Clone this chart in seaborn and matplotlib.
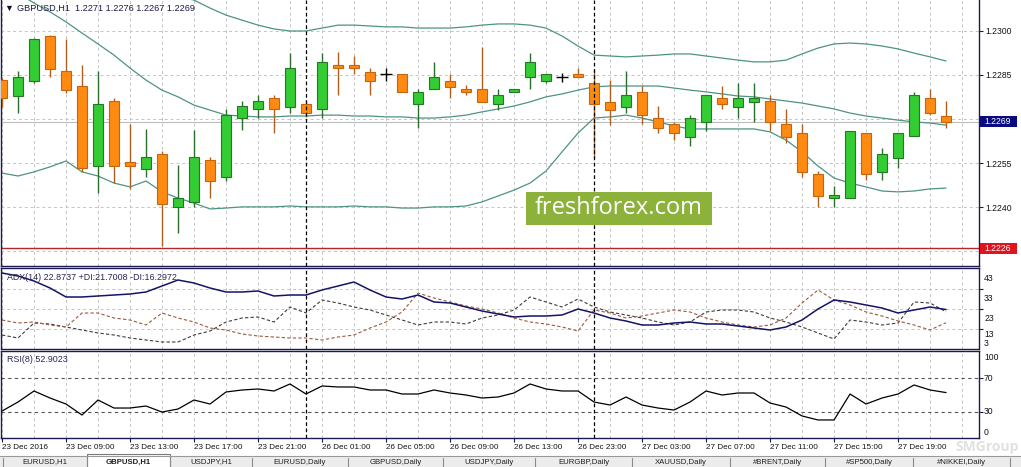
import numpy as np
import pandas as pd
import matplotlib
matplotlib.use("Agg")
import matplotlib.pyplot as plt
import matplotlib.transforms as mtransforms
from matplotlib.patches import Rectangle
import seaborn as sns

sns.set_theme(style="white")
plt.rcParams['font.family'] = ['Liberation Sans', 'DejaVu Sans']
plt.rcParams['axes.linewidth'] = 1.0

# ---------------- data ----------------
symbol = "GBPUSD,H1"
time_labels = ["23 Dec 2016", "23 Dec 09:00", "23 Dec 13:00", "23 Dec 17:00", "23 Dec 21:00",
               "26 Dec 01:00", "26 Dec 05:00", "26 Dec 09:00", "26 Dec 13:00", "26 Dec 23:00",
               "27 Dec 03:00", "27 Dec 07:00", "27 Dec 11:00", "27 Dec 15:00", "27 Dec 19:00"]

open_ = [1.22832, 1.22779, 1.22830, 1.22982, 1.22863, 1.22812, 1.22541, 1.22761, 1.22553, 1.22531,
         1.22580, 1.22400, 1.22419, 1.22560, 1.22502, 1.22702, 1.22733, 1.22770, 1.22742, 1.22750,
         1.22733, 1.22883, 1.22883, 1.22861, 1.22852, 1.22852, 1.22750, 1.22801, 1.22830, 1.22801,
         1.22801, 1.22750, 1.22791, 1.22842, 1.22830, 1.22842, 1.22852, 1.22821, 1.22759, 1.22742,
         1.22791, 1.22702, 1.22682, 1.22640, 1.22691, 1.22770, 1.22742, 1.22759, 1.22761, 1.22682,
         1.22651, 1.22512, 1.22430, 1.22430, 1.22651, 1.22521, 1.22568, 1.22642, 1.22770, 1.22710]
high = [1.22839, 1.22864, 1.22975, 1.22985, 1.22971, 1.22883, 1.22864, 1.22770, 1.22682, 1.22665,
        1.22591, 1.22543, 1.22662, 1.22572, 1.22733, 1.22762, 1.22781, 1.22781, 1.22923, 1.22764,
        1.22923, 1.22929, 1.22914, 1.22872, 1.22872, 1.22852, 1.22801, 1.22895, 1.22852, 1.22815,
        1.22944, 1.22801, 1.22801, 1.22923, 1.22852, 1.22855, 1.22872, 1.22866, 1.22832, 1.22864,
        1.22812, 1.22745, 1.22691, 1.22713, 1.22781, 1.22812, 1.22821, 1.22821, 1.22781, 1.22733,
        1.22682, 1.22523, 1.22472, 1.22660, 1.22651, 1.22600, 1.22651, 1.22793, 1.22801, 1.22760]
low = [1.22741, 1.22721, 1.22821, 1.22842, 1.22789, 1.22521, 1.22449, 1.22481, 1.22461, 1.22502,
       1.22268, 1.22311, 1.22402, 1.22430, 1.22490, 1.22662, 1.22702, 1.22651, 1.22721, 1.22708,
       1.22702, 1.22781, 1.22852, 1.22781, 1.22830, 1.22791, 1.22670, 1.22801, 1.22770, 1.22781,
       1.22759, 1.22730, 1.22791, 1.22801, 1.22821, 1.22827, 1.22842, 1.22566, 1.22679, 1.22721,
       1.22682, 1.22651, 1.22628, 1.22609, 1.22660, 1.22733, 1.22702, 1.22691, 1.22660, 1.22619,
       1.22504, 1.22402, 1.22402, 1.22430, 1.22492, 1.22492, 1.22532, 1.22642, 1.22713, 1.22670]
close = [1.22771, 1.22842, 1.22971, 1.22871, 1.22798, 1.22532, 1.22750, 1.22541, 1.22541, 1.22571,
         1.22410, 1.22430, 1.22571, 1.22490, 1.22713, 1.22744, 1.22761, 1.22733, 1.22872, 1.22721,
         1.22893, 1.22872, 1.22872, 1.22830, 1.22852, 1.22791, 1.22791, 1.22842, 1.22810, 1.22791,
         1.22759, 1.22781, 1.22801, 1.22893, 1.22852, 1.22842, 1.22842, 1.22750, 1.22730, 1.22781,
         1.22713, 1.22670, 1.22651, 1.22702, 1.22781, 1.22750, 1.22770, 1.22770, 1.22691, 1.22640,
         1.22521, 1.22439, 1.22441, 1.22660, 1.22512, 1.22580, 1.22651, 1.22781, 1.22721, 1.22690]

bb_upper = [1.23784, 1.23750, 1.23676, 1.23591, 1.23502, 1.23465, 1.23404, 1.23353, 1.23278, 1.23176,
            1.23145, 1.23118, 1.23104, 1.23077, 1.23053, 1.23036, 1.23019, 1.23006, 1.22999, 1.22999,
            1.23009, 1.23019, 1.23019, 1.23016, 1.23013, 1.23013, 1.23009, 1.23009, 1.23009, 1.23013,
            1.23019, 1.23023, 1.23023, 1.23019, 1.23009, 1.22982, 1.22948, 1.22917, 1.22914, 1.22911,
            1.22914, 1.22917, 1.22921, 1.22921, 1.22914, 1.22907, 1.22900, 1.22894, 1.22894, 1.22900,
            1.22921, 1.22941, 1.22955, 1.22958, 1.22955, 1.22948, 1.22938, 1.22924, 1.22911, 1.22897]
bb_mid = [1.23155, 1.23128, 1.23094, 1.23064, 1.23030, 1.22992, 1.22955, 1.22917, 1.22873, 1.22832,
          1.22798, 1.22775, 1.22747, 1.22730, 1.22713, 1.22710, 1.22707, 1.22707, 1.22710, 1.22710,
          1.22713, 1.22713, 1.22710, 1.22710, 1.22707, 1.22707, 1.22703, 1.22703, 1.22707, 1.22713,
          1.22724, 1.22734, 1.22744, 1.22758, 1.22775, 1.22785, 1.22798, 1.22809, 1.22812, 1.22812,
          1.22812, 1.22812, 1.22805, 1.22798, 1.22792, 1.22785, 1.22778, 1.22775, 1.22768, 1.22761,
          1.22754, 1.22744, 1.22734, 1.22720, 1.22710, 1.22703, 1.22696, 1.22690, 1.22686, 1.22679]
bb_lower = [1.22516, 1.22506, 1.22520, 1.22537, 1.22557, 1.22520, 1.22506, 1.22482, 1.22469, 1.22489,
            1.22452, 1.22431, 1.22414, 1.22394, 1.22397, 1.22401, 1.22401, 1.22401, 1.22404, 1.22401,
            1.22401, 1.22401, 1.22404, 1.22401, 1.22401, 1.22397, 1.22397, 1.22401, 1.22401, 1.22404,
            1.22418, 1.22438, 1.22458, 1.22482, 1.22523, 1.22588, 1.22652, 1.22703, 1.22707, 1.22713,
            1.22703, 1.22690, 1.22676, 1.22666, 1.22666, 1.22666, 1.22666, 1.22666, 1.22656, 1.22628,
            1.22588, 1.22540, 1.22499, 1.22482, 1.22469, 1.22455, 1.22452, 1.22455, 1.22462, 1.22465]

adx = [41.15, 39.65, 37.15, 33.65, 29.15, 29.15, 29.65, 30.15, 30.65, 31.65,
       34.65, 37.65, 36.15, 33.65, 31.65, 31.65, 32.15, 29.65, 30.15, 30.15,
       32.65, 34.65, 36.65, 32.65, 29.15, 28.15, 30.15, 26.65, 26.15, 24.15,
       22.15, 20.65, 19.15, 19.65, 19.65, 20.15, 23.15, 21.15, 18.65, 17.15,
       15.15, 15.15, 16.15, 16.65, 15.65, 15.65, 14.65, 13.65, 12.65, 14.15,
       17.65, 23.15, 27.65, 26.65, 25.15, 23.65, 21.15, 22.65, 24.15, 22.8737]
plus_di = [10.15, 8.65, 16.15, 15.65, 14.15, 12.65, 11.15, 10.15, 8.65, 7.65,
           6.65, 6.65, 10.15, 12.15, 16.65, 18.65, 19.15, 16.65, 24.15, 21.15,
           27.65, 26.15, 24.15, 22.65, 20.15, 17.65, 15.15, 16.65, 16.65, 15.65,
           18.65, 20.15, 22.65, 29.15, 26.65, 24.15, 28.15, 24.15, 21.65, 20.15,
           18.65, 16.65, 15.15, 16.65, 21.65, 22.65, 22.65, 21.65, 18.65, 16.65,
           14.15, 11.15, 8.15, 17.65, 16.65, 15.15, 16.15, 26.65, 26.15, 21.7008]
minus_di = [17.65, 16.15, 16.65, 15.15, 14.15, 21.15, 21.15, 18.65, 17.65, 15.15,
            21.15, 18.65, 16.65, 13.65, 12.65, 10.65, 9.65, 9.15, 8.65, 8.65,
            7.65, 9.15, 10.15, 13.65, 16.65, 21.65, 31.15, 28.65, 26.65, 24.65,
            23.15, 21.15, 18.65, 16.65, 15.65, 14.15, 12.15, 22.65, 21.15, 18.65,
            19.65, 21.15, 22.65, 21.65, 18.65, 16.65, 15.15, 14.15, 15.15, 18.65,
            26.15, 32.65, 27.65, 25.15, 21.65, 19.65, 17.15, 15.15, 12.65, 16.2972]
rsi = [30.8, 41.6, 54.8, 46.4, 39.2, 26.0, 44.0, 34.4, 34.4, 36.8,
       29.6, 33.2, 44.0, 39.2, 53.6, 56.0, 57.2, 54.8, 63.2, 51.2,
       60.8, 59.6, 59.6, 56.0, 56.0, 51.2, 51.2, 56.0, 52.4, 50.0,
       46.4, 47.6, 52.4, 63.2, 57.2, 54.8, 54.8, 41.6, 38.0, 47.6,
       38.0, 34.4, 32.0, 41.6, 54.8, 50.0, 52.4, 52.4, 40.4, 35.6,
       24.9, 20.1, 20.1, 51.2, 39.2, 46.4, 51.2, 62.0, 56.0, 52.9023]

price_ticks = [1.2300, 1.2285, 1.2270, 1.2255, 1.2240, 1.2225]
price_labels = ["1.2300", "1.2285", "", "1.2255", "1.2240", ""]
alert_level = 1.2226
adx_grid = [33, 23, 13]
adx_labels = [43, 33, 23, 13, 3]
rsi_levels = [70, 30]
rsi_labels = [100, 70, 30, 0]
separator_bars = [19, 37]
tab_names = ["EURUSD,H1", "GBPUSD,H1", "USDJPY,H1", "EURUSD,Daily", "GBPUSD,Daily",
             "USDJPY,Daily", "EURGBP,Daily", "XAUUSD,Daily", "#BRENT,Daily", "#SP500,Daily",
             "#NIKKEI,Daily"]
watermark = "freshforex.com"
corner_mark = "SMGroup"

n = len(close)
df = pd.DataFrame({"bar": np.arange(n), "open": open_, "high": high, "low": low, "close": close,
                   "bb_upper": bb_upper, "bb_mid": bb_mid, "bb_lower": bb_lower,
                   "adx": adx, "plus_di": plus_di, "minus_di": minus_di, "rsi": rsi})

# ---------------- layout ----------------
W, H = 1021, 467
fig = plt.figure(figsize=(W / 100, H / 100), dpi=100)
fig.patch.set_facecolor("white")


def box(x0, y0, x1, y1):
    return [x0 / W, 1 - y1 / H, (x1 - x0) / W, (y1 - y0) / H]


NAVY = "#1b1b4f"
GRID = "#c4c4c4"
BAND = "#4e9384"
XLIM = (-0.0625, 61.06)
LBL = 6.2
DASH = (0, (3, 3))

# background (tab bar, corner watermark)
bg = fig.add_axes([0, 0, 1, 1], zorder=-5)
bg.set_xlim(0, W); bg.set_ylim(H, 0); bg.axis("off")
bg.text(1019, 447, corner_mark, fontsize=10, color="#e0e0e0", ha="right", va="center",
        family=["Open Sans", "DejaVu Sans"], fontweight="bold")
bg.add_patch(Rectangle((0, 456), W, 11, fc="#ececec", ec="none"))
bg.plot([0, W], [456, 456], color="#9a9a9a", lw=0.8)
tab_edges = [3, 87, 170, 252, 348, 443, 535, 632, 730, 825, 913, 1010]
bg.add_patch(Rectangle((tab_edges[1], 454), tab_edges[2] - tab_edges[1], 14, fc="white", ec="#7a7a7a", lw=0.8))
for e in tab_edges:
    bg.plot([e, e], [458, 467], color="#8a8a8a", lw=0.8)
for i, name in enumerate(tab_names):
    bg.text((tab_edges[i] + tab_edges[i + 1]) / 2, 462, name, fontsize=5.6, ha="center", va="center",
            color="#202020", fontweight="bold" if i == 1 else "normal")


def style_panel(a, hide_top=False):
    a.set_facecolor("white")
    a.set_xlim(*XLIM)
    for s in a.spines.values():
        s.set_color(NAVY); s.set_linewidth(1.0)
    if hide_top:
        a.spines["top"].set_visible(False)
    a.set_xlabel(""); a.set_ylabel("")
    for b in range(0, 62, 2):
        a.axvline(b, color=GRID, lw=0.7, ls=DASH, zorder=0)
    for b in separator_bars:
        a.axvline(b, color="black", lw=0.9, ls=(0, (3, 2)), zorder=6)


# ---------------- main price panel ----------------
ax = fig.add_axes(box(1, 0, 979, 265.5))
for p in price_ticks:
    ax.axhline(p, color=GRID, lw=0.7, ls=DASH, zorder=0)
ax.axhline(close[-1], color="#bcbcbc", lw=0.8, zorder=1)
ax.axhline(alert_level, color="#b3262b", lw=1.0, zorder=2)
for col in ["bb_upper", "bb_mid", "bb_lower"]:
    sns.lineplot(data=df, x="bar", y=col, ax=ax, color=BAND, lw=0.9, legend=False, zorder=2)

up = df[df.close > df.open]
dn = df[df.close < df.open]
dj = df[df.close == df.open]
ax.vlines(up.bar, up.low, up.high, color="#2b6e2b", lw=1.0, zorder=3)
ax.bar(up.bar, up.close - up.open, bottom=up.open, width=0.62, color="#33cc33",
       edgecolor="#237a23", linewidth=0.8, zorder=4)
ax.vlines(dn.bar, dn.low, dn.high, color="#b0601e", lw=1.0, zorder=3)
ax.bar(dn.bar, dn.open - dn.close, bottom=dn.close, width=0.62, color="#ff8a12",
       edgecolor="#c8650c", linewidth=0.8, zorder=4)
ax.vlines(dj.bar, dj.low, dj.high, color="black", lw=1.0, zorder=4)
ax.hlines(dj.open, dj.bar - 0.36, dj.bar + 0.36, color="black", lw=1.0, zorder=4)

style_panel(ax, hide_top=True)
ax.set_ylim(1.222017, 1.231044)
ax.set_xticks([])
ax.yaxis.tick_right()
ax.set_yticks(price_ticks)
ax.set_yticklabels(price_labels)
ax.tick_params(axis="y", length=3, width=0.8, color=NAVY, pad=1.5, labelsize=LBL, labelcolor="#111111")

blend = mtransforms.blended_transform_factory(ax.transAxes, ax.transData)
for val, fc in [(close[-1], "#0a0a80"), (alert_level, "#e0141e")]:
    ax.add_patch(Rectangle((1.001, val - 0.00019), 0.038, 0.00038, transform=blend, fc=fc, ec="none",
                           clip_on=False, zorder=19))
    ax.text(1.0052, val, f"{val:.4f}", transform=blend, fontsize=LBL, color="white", ha="left",
            va="center", clip_on=False, zorder=20)

# ---------------- ADX panel ----------------
ax2 = fig.add_axes(box(1, 267.5, 979, 348.5))
for v in adx_grid:
    ax2.axhline(v, color=GRID, lw=0.7, ls=DASH, zorder=0)
sns.lineplot(data=df, x="bar", y="plus_di", ax=ax2, color="#3c3c3c", lw=0.8, ls=(0, (3, 2)), legend=False, zorder=2)
sns.lineplot(data=df, x="bar", y="minus_di", ax=ax2, color="#9b5a3c", lw=0.8, ls=(0, (3, 2)), legend=False, zorder=2)
sns.lineplot(data=df, x="bar", y="adx", ax=ax2, color="#141466", lw=1.1, legend=False, zorder=3)
style_panel(ax2)
ax2.set_ylim(3.4, 43.9)
ax2.set_xticks([])
ax2.yaxis.tick_right()
ax2.set_yticks(adx_grid)
ax2.tick_params(axis="y", length=3, width=0.8, color=NAVY, labelright=False)
blend2 = mtransforms.blended_transform_factory(ax2.transAxes, ax2.transData)
for v in adx_labels:
    if v == min(adx_labels):
        ax2.text(1.0052, 0.0, str(v), transform=ax2.transAxes, fontsize=LBL, color="#111111",
                 ha="left", va="bottom", clip_on=False)
    else:
        ax2.text(1.0052, max(v - 4.5, 10.3), str(v), transform=blend2, fontsize=LBL, color="#111111",
                 ha="left", va="center", clip_on=False)

# ---------------- RSI panel ----------------
ax3 = fig.add_axes(box(1, 351, 979, 437.7))
for v in rsi_levels:
    ax3.axhline(v, color="#555555", lw=0.8, ls=DASH, zorder=1)
sns.lineplot(data=df, x="bar", y="rsi", ax=ax3, color="black", lw=0.9, legend=False, zorder=3)
style_panel(ax3)
ax3.set_ylim(-1.14, 102.7)
ax3.yaxis.tick_right()
ax3.set_yticks(rsi_levels)
ax3.tick_params(axis="y", length=3, width=0.8, color=NAVY, labelright=False)
blend3 = mtransforms.blended_transform_factory(ax3.transAxes, ax3.transData)
for v in rsi_labels:
    va = "top" if v == max(rsi_labels) else ("bottom" if v == min(rsi_labels) else "center")
    ax3.text(1.0052, v, str(v), transform=blend3, fontsize=LBL, color="#111111", ha="left", va=va,
             clip_on=False)
ax3.set_xticks(list(range(0, 4 * len(time_labels), 4)))
ax3.set_xticklabels(time_labels, ha="left")
ax3.tick_params(axis="x", length=3, width=0.8, color=NAVY, pad=1.5, labelsize=5.9, labelcolor="#151515",
                direction="out", bottom=True)

# ---------------- overlay texts ----------------
ov = fig.add_axes([0, 0, 1, 1], zorder=10)
ov.set_xlim(0, W); ov.set_ylim(H, 0); ov.axis("off"); ov.patch.set_alpha(0)
ov.text(9, 8, "\u25BC", fontsize=6.5, color="#111133", ha="center", va="center")
ov.text(17, 8, f"{symbol}  {open_[-1]:.4f} {high[-1]:.4f} {low[-1]:.4f} {close[-1]:.4f}",
        fontsize=6.6, color="#1a1a48", ha="left", va="center")
ov.text(7, 277, f"ADX(14) {adx[-1]:.4f} +DI:{plus_di[-1]:.4f} -DI:{minus_di[-1]:.4f}",
        fontsize=6.4, color="#262650", ha="left", va="center")
ov.text(7, 360, f"RSI(8) {rsi[-1]:.4f}", fontsize=6.4, color="#262650", ha="left", va="center")
ov.add_patch(Rectangle((526, 192), 186, 33, fc="#8db23c", ec="none"))
ov.text(619, 208.5, watermark, fontsize=17, color="white", ha="center", va="center",
        family=["Open Sans", "DejaVu Sans"])

fig.savefig("out.png", dpi=100, facecolor="white")
